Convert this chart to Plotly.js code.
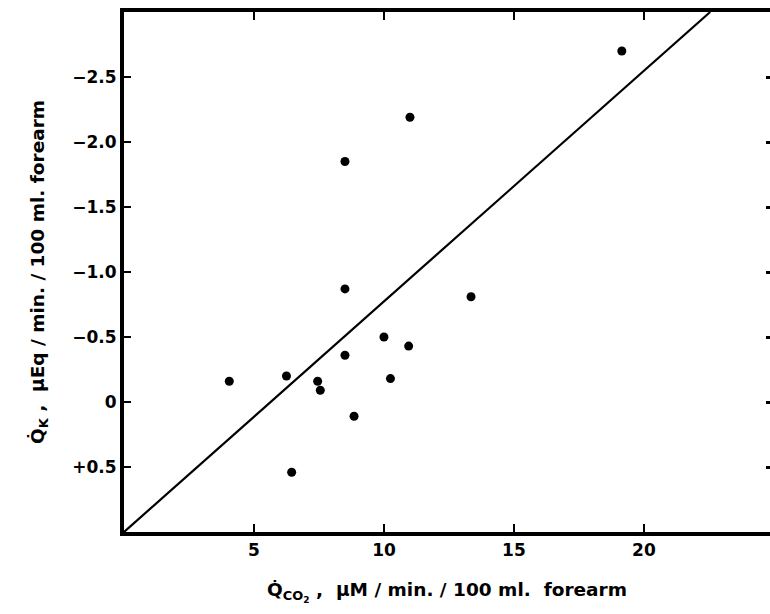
<!DOCTYPE html>
<html>
<head>
<meta charset="utf-8">
<script src="https://cdn.plot.ly/plotly-2.35.2.min.js"></script>
<style>html,body{margin:0;padding:0;background:#fff;}#chart{width:770px;height:614px;}</style>
</head>
<body>
<div id="chart"></div>
<script>
// Q̇CO2 (µM/min/100 ml forearm)
const qco2 = [4.05, 6.25, 7.45, 7.55, 8.5, 10.0, 10.95, 10.25, 8.85, 6.45, 13.35, 8.5, 11.0, 8.5, 19.15];
// Q̇K (µEq/min/100 ml forearm); negative values are plotted upward
const qk = [-0.16, -0.20, -0.16, -0.09, -0.36, -0.50, -0.43, -0.18, 0.11, 0.54, -0.81, -1.85, -2.19, -0.87, -2.70];
// fitted line end points
const fitX = [0, 22.55];
const fitY = [1.0, -3.0];
// axis ticks
const xTickVals = [5, 10, 15, 20];
const xTickText = ["5", "10", "15", "20"];
const yTickVals = [-2.5, -2.0, -1.5, -1.0, -0.5, 0, 0.5];
const yTickText = ["\u22122.5", "\u22122.0", "\u22121.5", "\u22121.0", "\u22120.5", "0", "+0.5"];

const FONT = "'DejaVu Sans', 'Liberation Sans', Arial, sans-serif";

const traces = [
  {x: fitX, y: fitY, mode: "lines", line: {color: "#000", width: 2.2}, hoverinfo: "skip", yaxis: "y2"},
  {x: qco2, y: qk, mode: "markers", marker: {color: "#000", size: 9}}
];

const layout = {
  width: 770, height: 614,
  margin: {l: 124, r: 0, t: 12, b: 82},
  paper_bgcolor: "#fff", plot_bgcolor: "#fff",
  showlegend: false,
  font: {family: FONT, color: "#000", size: 17},
  xaxis: {
    range: [0, 24.85], showgrid: false, zeroline: false,
    showline: true, linecolor: "#000", linewidth: 4, mirror: "ticks",
    ticks: "inside", ticklen: 8, tickwidth: 2.5, tickcolor: "#000",
    tickvals: xTickVals, ticktext: xTickText,
    tickfont: {family: FONT, size: 17, weight: "bold"},
    title: {text: "Q\u0307<sub>CO<sub>2</sub></sub> ,  \u03bcM / min. / 100 ml.  forearm", font: {family: FONT, size: 18.5, weight: "bold"}, standoff: 25},
    automargin: false
  },
  yaxis: {
    range: [1.0, -3.0], showgrid: false, zeroline: false,
    showline: true, linecolor: "#000", linewidth: 4,
    ticks: "inside", ticklen: 7, tickwidth: 2.5, tickcolor: "#000",
    tickvals: yTickVals, ticktext: yTickText,
    tickfont: {family: FONT, size: 17, weight: "bold"},
    title: {text: "Q\u0307<sub>K</sub> ,  \u03bcEq / min. / 100 ml. forearm", font: {family: FONT, size: 18.5, weight: "bold"}, standoff: 24},
    automargin: false
  },
  yaxis2: {
    range: [1.0, -3.0], overlaying: "y", side: "right",
    showgrid: false, zeroline: false, showline: false,
    ticks: "inside", ticklen: 4, tickwidth: 3, tickcolor: "#000",
    tickvals: yTickVals, showticklabels: false
  }
};

Plotly.newPlot("chart", traces, layout, {staticPlot: true, displayModeBar: false});
</script>
</body>
</html>
